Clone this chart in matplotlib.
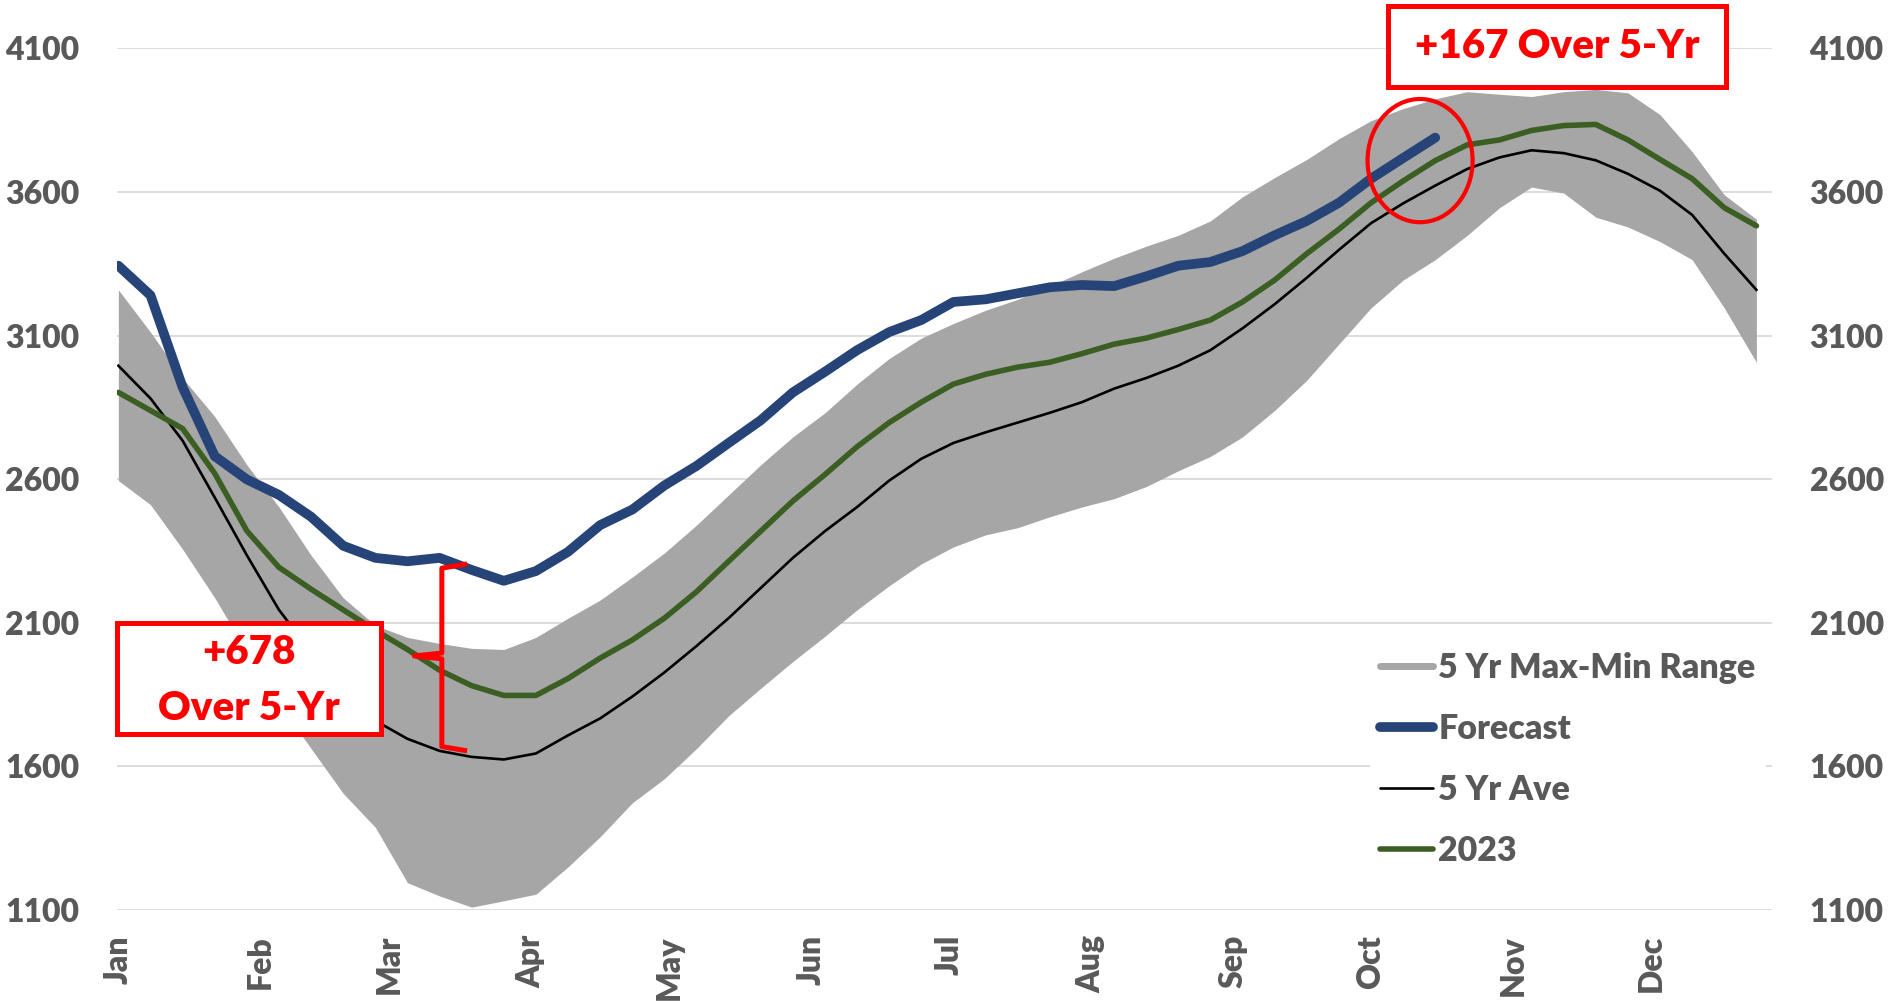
import numpy as np
import matplotlib.pyplot as plt
from matplotlib.lines import Line2D
from matplotlib.patches import Ellipse, Rectangle

plt.rcParams['font.family'] = ['Lato', 'DejaVu Sans']

W, H = 1893, 1002
WEIGHT = "heavy"

# ── Data (weekly, week 0 = first week of Jan) ────────────────
MONTHS = ["Jan", "Feb", "Mar", "Apr", "May", "Jun",
          "Jul", "Aug", "Sep", "Oct", "Nov", "Dec"]
MONTH_START_DAY = [0, 31, 59, 90, 120, 151, 181, 212, 243, 273, 304, 334]
Y_TICKS = [1100, 1600, 2100, 2600, 3100, 3600, 4100]

range_max = [3259, 3112, 2952, 2818, 2650, 2503, 2335, 2187, 2091, 2049,
             2028, 2011, 2007, 2049, 2116, 2179, 2259, 2343, 2440, 2545,
             2650, 2747, 2831, 2931, 3020, 3091, 3142, 3188, 3226, 3272,
             3322, 3369, 3411, 3449, 3499, 3583, 3650, 3713, 3785, 3848,
             3890, 3924, 3949, 3940, 3932, 3949, 3957, 3945, 3869, 3740,
             3590, 3505]
range_min = [2595, 2511, 2356, 2187, 1998, 1818, 1662, 1506, 1388, 1195,
             1149, 1110, 1132, 1155, 1250, 1355, 1473, 1557, 1662, 1776,
             1872, 1965, 2053, 2145, 2229, 2305, 2364, 2406, 2431, 2469,
             2503, 2532, 2574, 2629, 2679, 2747, 2839, 2944, 3070, 3196,
             3293, 3364, 3449, 3545, 3617, 3596, 3512, 3478, 3427, 3364,
             3196, 3007]
avg_5yr = [2995, 2881, 2734, 2536, 2335, 2145, 1998, 1864, 1759, 1696,
           1654, 1633, 1624, 1645, 1708, 1767, 1843, 1927, 2019, 2116,
           2221, 2326, 2419, 2503, 2595, 2671, 2726, 2763, 2797, 2831,
           2868, 2915, 2952, 2995, 3049, 3125, 3209, 3301, 3398, 3491,
           3560, 3622, 3680, 3720, 3745, 3735, 3710, 3663, 3604, 3520,
           3385, 3259]
y2023 = [2902, 2839, 2776, 2620, 2420, 2293, 2217, 2145, 2074, 2007,
         1935, 1881, 1847, 1847, 1906, 1977, 2040, 2116, 2208, 2314,
         2419, 2524, 2616, 2713, 2797, 2868, 2931, 2965, 2990, 3007,
         3037, 3070, 3091, 3121, 3154, 3217, 3293, 3385, 3470, 3562,
         3638, 3709, 3764, 3781, 3814, 3831, 3835, 3781, 3713, 3646,
         3545, 3482]
forecast = [3343, 3240, 2920, 2680, 2599, 2545, 2469, 2368, 2326, 2314,
            2326, 2284, 2246, 2280, 2347, 2440, 2494, 2578, 2646, 2726,
            2805, 2902, 2974, 3049, 3112, 3154, 3217, 3226, 3247, 3268,
            3276, 3272, 3306, 3343, 3356, 3394, 3449, 3499, 3562, 3646,
            3718, 3789]

days = np.arange(len(avg_5yr)) * 7
fc_days = np.arange(len(forecast)) * 7

C_RANGE = "#A6A6A6"
C_FCST = "#264478"
C_2023 = "#3B5E23"
C_TEXT = "#595959"
RED = "#FF0000"


def fx(px):
    return px / W


def fy(py):
    return 1 - py / H


# ── Figure ───────────────────────────────────────────────────
fig = plt.figure(figsize=(W / 100, H / 100), dpi=100)
ax = fig.add_axes([fx(117), fy(910), (1772 - 117) / W, (910 - 48.3) / H])

ax.fill_between(days, range_min, range_max, color=C_RANGE, lw=0, zorder=2)
ax.plot(days, avg_5yr, color="black", lw=1.9, zorder=3)
ax.plot(days, y2023, color=C_2023, lw=4, zorder=4, solid_capstyle="round",
        solid_joinstyle="round")
ax.plot(fc_days, forecast, color=C_FCST, lw=7, zorder=5,
        solid_capstyle="round", solid_joinstyle="round")

ax.set_xlim(-0.3, 360.4)
ax.set_ylim(1100, 4100)
ax.set_yticks(Y_TICKS)
ax.set_xticks(MONTH_START_DAY)
ax.set_xticklabels(MONTHS, rotation=90)
ax.yaxis.grid(True, color="#D9D9D9", lw=1.3)
ax.set_axisbelow(True)
for s in ax.spines.values():
    s.set_visible(False)
ax.tick_params(length=0, labelsize=23, labelcolor=C_TEXT)
ax.tick_params(axis="y", pad=27)
ax.tick_params(axis="x", pad=18)
for lab in ax.get_xticklabels() + ax.get_yticklabels():
    lab.set_fontweight(WEIGHT)

ax2 = ax.twinx()
ax2.set_ylim(1100, 4100)
ax2.set_yticks(Y_TICKS)
for s in ax2.spines.values():
    s.set_visible(False)
ax2.tick_params(length=0, labelsize=23, labelcolor=C_TEXT, pad=27)
for lab in ax2.get_yticklabels():
    lab.set_fontweight(WEIGHT)

# ── Legend ───────────────────────────────────────────────────
handles = [
    Line2D([], [], color=C_RANGE, lw=5, solid_capstyle="round"),
    Line2D([], [], color=C_FCST, lw=7, solid_capstyle="round"),
    Line2D([], [], color="black", lw=1.9, solid_capstyle="round"),
    Line2D([], [], color=C_2023, lw=4, solid_capstyle="round"),
]
labels = ["5 Yr Max-Min Range", "Forecast", "5 Yr Ave", "2023"]
leg = ax.legend(handles, labels, loc="upper left",
                bbox_to_anchor=(fx(1370), fy(642)),
                bbox_transform=fig.transFigure, borderaxespad=0,
                frameon=True, facecolor="white", edgecolor="none",
                framealpha=1, fancybox=False, borderpad=0.3,
                handlelength=1.56, handletextpad=0.15, labelspacing=0.85,
                prop={"weight": WEIGHT, "size": 24.5}, labelcolor=C_TEXT)
leg.set_zorder(10)

# ── Annotations ──────────────────────────────────────────────
# curly bracket between forecast and 5-yr average in mid-March
bx, tip = 70.5, 64.5
b_top, b_bot = 2305, 1654
b_mid = (b_top + b_bot) / 2 + 5
ax.plot([bx + 5.5, bx, bx, tip, bx, bx, bx + 5.5],
        [b_top, b_top - 15, b_mid + 10, b_mid, b_mid - 10, b_bot + 15, b_bot],
        color=RED, lw=3.6, zorder=8, solid_joinstyle="round",
        solid_capstyle="butt")

# circle round the end of the forecast
ax.add_patch(Ellipse((283.7, 3709), 22.9, 429, fill=False, ec=RED, lw=3,
                     zorder=8))

# boxed labels
box_kw = dict(transform=fig.transFigure, fc="white", ec=RED, lw=3.6,
              zorder=20)
fig.add_artist(Rectangle((fx(117), fy(734)), (381 - 117) / W,
                         (734 - 623) / H, **box_kw))
fig.add_artist(Rectangle((fx(1388), fy(87)), (1726 - 1388) / W,
                         (87 - 6) / H, **box_kw))

txt_kw = dict(color=RED, fontsize=29, fontweight=WEIGHT, ha="center",
              va="center", zorder=21)
fig.text(fx(249), fy(652), "+678", **txt_kw)
fig.text(fx(249), fy(709), "Over 5-Yr", **txt_kw)
fig.text(fx(1557), fy(46), "+167 Over 5-Yr", **txt_kw)

fig.savefig("out.png", dpi=100)
